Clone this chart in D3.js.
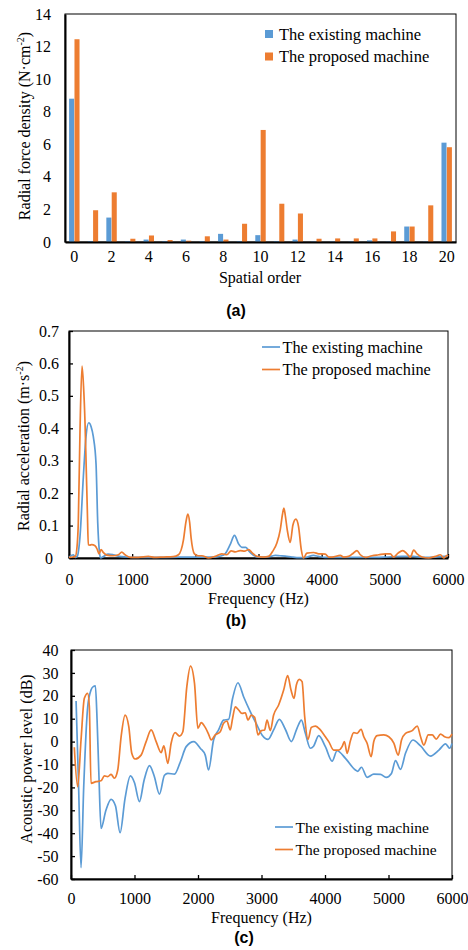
<!DOCTYPE html>
<html>
<head>
<meta charset="utf-8">
<script src="https://cdn.jsdelivr.net/npm/d3@7"></script>
<style>
  body { margin: 0; background: #fff; }
</style>
</head>
<body>
<div id="chart"></div>
<script>
/* CONSTANTS AND GLOBALS */
const width = 468,
  height = 950;
const blue = "#5B9BD5",
  orange = "#ED7D31";
const serif = "Liberation Serif, Times New Roman, serif";

/* DATA */
// (a) radial force density per spatial order
const orders = d3.range(0, 21);
const forceExisting = [8.8, 0.05, 1.5, 0.05, 0.15, 0.05, 0.15, 0.05, 0.5, 0.05, 0.42, 0.05, 0.15, 0.03, 0.03, 0.03, 0.1, 0.03, 0.95, 0.03, 6.1];
const forceProposed = [12.45, 1.95, 3.05, 0.2, 0.4, 0.12, 0.08, 0.35, 0.15, 1.12, 6.88, 2.35, 1.75, 0.2, 0.22, 0.22, 0.22, 0.65, 0.95, 2.25, 5.82];
const forceTicks = [0, 2, 4, 6, 8, 10, 12, 14];
const orderTicks = [0, 2, 4, 6, 8, 10, 12, 14, 16, 18, 20];

// (b) radial acceleration [Hz, m/s2]
const accExisting = [[0,0.003],[40,0.008],[70,0.01],[100,0.002],[130,0.005],[174,0.066],[227,0.25],[269,0.374],[312,0.417],[350,0.405],[385,0.374],[428,0.29],[455,0.108],[481,0.02],[500,0],[550,0.005],[620,0.012],[700,0.01],[800,0.005],[900,0.003],[1000,0.002],[1500,0.002],[2000,0.003],[2314,0.003],[2400,0.006],[2472,0.013],[2551,0.041],[2620,0.07],[2683,0.044],[2737,0.033],[2800,0.033],[2853,0.02],[2921,0.008],[3000,0.003],[3100,0.003],[3212,0.006],[3265,0.008],[3340,0.007],[3423,0.006],[3529,0.003],[3650,0.001],[3750,0.002],[3872,0.008],[3950,0.005],[4050,0.002],[4300,0.002],[4700,0.002],[5000,0.003],[5272,0.005],[5450,0.005],[5600,0.002],[5800,0.003],[5986,0.006],[6000,0.005]];
const accProposed = [[0,0.002],[60,0.003],[100,0.005],[125,0.03],[147,0.108],[175,0.4],[206,0.592],[230,0.53],[254,0.415],[275,0.26],[290,0.149],[306,0.041],[330,0.04],[359,0.041],[412,0.038],[449,0.026],[475,0.013],[507,0.026],[544,0.017],[597,0.009],[702,0.007],[782,0.01],[835,0.018],[887,0.01],[966,0.002],[1100,0.002],[1257,0.005],[1350,0.002],[1500,0.003],[1650,0.004],[1733,0.01],[1812,0.056],[1850,0.11],[1881,0.135],[1910,0.11],[1933,0.062],[1986,0.013],[2049,0.007],[2103,0.007],[2208,0],[2314,0.005],[2420,0.013],[2499,0.01],[2567,0.022],[2631,0.019],[2710,0.023],[2779,0.021],[2842,0.026],[2905,0.015],[2974,0.005],[3080,0.003],[3159,0.005],[3222,0.02],[3291,0.046],[3344,0.087],[3380,0.135],[3402,0.154],[3425,0.13],[3455,0.087],[3502,0.048],[3545,0.102],[3592,0.12],[3634,0.097],[3677,0.026],[3713,0],[3766,0.015],[3872,0.017],[3951,0.013],[4057,0.012],[4110,0.003],[4163,0.003],[4295,0.008],[4348,0.003],[4427,0.005],[4490,0.013],[4559,0.023],[4612,0.01],[4691,0.002],[4797,0.007],[4902,0.01],[5008,0.013],[5087,0.013],[5140,0.003],[5209,0.015],[5283,0.023],[5351,0.013],[5404,0.003],[5457,0.024],[5510,0.013],[5589,0.003],[5694,0],[5800,0.005],[5880,0.01],[5932,0],[5985,0.008],[6000,0.006]];
const accTicks = [0, 0.1, 0.2, 0.3, 0.4, 0.5, 0.6, 0.7];

// (c) acoustic power level [Hz, dB]
const swlExisting = [[80,17.7],[120,-20],[158,-55],[200,-20],[263,15.2],[315,22.5],[350,24],[384,24.3],[410,10],[440,-15],[473,-37.9],[550,-30],[631,-25.2],[700,-28],[773,-39.8],[850,-25],[936,-15],[1000,-18],[1078,-26.2],[1150,-17],[1236,-10.5],[1310,-15],[1393,-22.9],[1472,-14.7],[1525,-13.9],[1630,-14.2],[1720,-9],[1814,-2.2],[1935,0],[2035,-2.9],[2114,-5.9],[2166,-12.4],[2245,0.7],[2324,5.1],[2403,9.4],[2482,9.7],[2545,18.9],[2629,25.7],[2718,19.6],[2823,13.1],[2929,7.2],[3008,2.9],[3102,1.0],[3191,5.1],[3281,9.7],[3375,5.4],[3470,0],[3559,5.8],[3628,9.4],[3691,3.6],[3770,-2.9],[3820,-2],[3901,2.6],[4006,-2.2],[4112,-8.5],[4190,-4.0],[4322,-7.3],[4479,-12.4],[4515,-13],[4574,-11.2],[4663,-15.6],[4768,-14.2],[4873,-14.3],[4963,-15.6],[5047,-13.9],[5110,-8.3],[5189,-12.1],[5268,-5.1],[5384,0.7],[5505,-1.9],[5662,-6.3],[5794,-3.7],[5899,-1.0],[5962,-2.9],[6000,-0.8]];
const swlProposed = [[52,-2.5],[105,-19.7],[158,0.7],[210,18.9],[263,21.1],[289,15.2],[315,-18.2],[394,-17.5],[473,-17.1],[526,-15],[578,-15.3],[631,-14.3],[683,-16],[736,-12.4],[789,2.1],[852,11.6],[910,6.5],[957,-5.1],[1009,-7.6],[1104,-5.9],[1183,0],[1262,5.1],[1341,0],[1420,-4.8],[1462,-1.9],[1525,-9.5],[1577,-0.7],[1640,3.9],[1708,2.4],[1761,4.3],[1824,24],[1882,33],[1945,25.4],[1998,5.8],[2050,8.3],[2114,6.2],[2166,3.3],[2208,0.7],[2271,2.9],[2350,4.3],[2403,8.0],[2455,9.0],[2508,5.1],[2545,10.2],[2587,15.2],[2640,13.8],[2692,12.3],[2745,12.6],[2787,9.4],[2839,11.6],[2892,10.6],[2945,2.9],[2997,4.8],[3049,5.1],[3087,9.4],[3139,4.8],[3191,11.6],[3270,16],[3349,22.5],[3412,28.8],[3465,22.5],[3512,18.9],[3549,24.7],[3596,27.2],[3639,26.2],[3680,10.9],[3733,1.0],[3785,6.2],[3849,6.8],[3927,5.1],[4006,2.1],[4059,0],[4137,-3.7],[4216,-3.7],[4269,-2.2],[4306,0],[4348,-5.1],[4401,0.5],[4453,3.9],[4506,3.6],[4569,5.4],[4611,2.1],[4663,-0.7],[4727,-6.6],[4768,0],[4821,2.6],[4926,2.9],[5005,2.1],[5084,-0.7],[5153,-5.9],[5205,0.7],[5268,3.6],[5374,4.8],[5453,6.8],[5505,2.1],[5557,-1.5],[5626,2.9],[5689,2.9],[5752,1.1],[5820,3.3],[5883,2.1],[5951,1.7],[6000,3.3]];
const swlTicks = [-60, -50, -40, -30, -20, -10, 0, 10, 20, 30, 40];
const freqTicks = [0, 1000, 2000, 3000, 4000, 5000, 6000];
const seriesNames = ["The existing machine", "The proposed machine"];

const svg = d3.select("#chart")
  .append("svg")
  .attr("width", width)
  .attr("height", height)
  .attr("font-family", serif);

// frame: thin box, thick left/bottom axes drawn on top of it
function frame(box) {
  svg.append("rect")
    .attr("x", box.left).attr("y", box.top)
    .attr("width", box.right - box.left).attr("height", box.bottom - box.top)
    .attr("fill", "none").attr("stroke", "#000").attr("stroke-width", 1);
}

function styleAxis(g) {
  g.select(".domain").attr("stroke", "#000").attr("stroke-width", 2);
  g.selectAll(".tick line").attr("stroke", "#000").attr("stroke-width", 1.3);
  g.selectAll("text").attr("font-family", serif).attr("font-size", 16).attr("fill", "#000");
}

function yTitle(x, y, main, sup, tail) {
  const t = svg.append("text")
    .attr("transform", `translate(${x}, ${y}) rotate(-90)`)
    .attr("text-anchor", "middle")
    .attr("font-size", 16)
    .text(main);
  if (sup) {
    t.append("tspan").attr("dy", -6).attr("font-size", 10).text(sup);
    t.append("tspan").attr("dy", 6).text(tail);
  }
}

function caption(x, y, s) {
  svg.append("text")
    .attr("x", x).attr("y", y)
    .attr("text-anchor", "middle")
    .attr("font-family", "Liberation Sans, Arial, sans-serif")
    .attr("font-weight", "bold")
    .attr("font-size", 16)
    .text(s);
}

const plain = d => String(d);

/* (a) BAR CHART */
const boxA = { left: 65, right: 456, top: 14, bottom: 242 };
frame(boxA);
const xA = d3.scaleBand()
  .domain(orders)
  .range([boxA.left, boxA.right])
  .paddingInner(0.44)
  .paddingOuter(0.22);
const xSub = d3.scaleBand()
  .domain([0, 1])
  .range([0, xA.bandwidth()])
  .paddingInner(0.06);
const yA = d3.scaleLinear().domain([0, 14]).range([boxA.bottom, boxA.top]);

const barGroups = svg.selectAll(".order")
  .data(orders)
  .join("g")
  .attr("class", "order")
  .attr("transform", d => `translate(${xA(d)}, 0)`);
barGroups.selectAll("rect")
  .data(d => [forceExisting[d], forceProposed[d]])
  .join("rect")
  .attr("x", (d, i) => xSub(i))
  .attr("width", xSub.bandwidth())
  .attr("y", d => yA(d))
  .attr("height", d => yA(0) - yA(d))
  .attr("fill", (d, i) => i === 0 ? blue : orange);

svg.append("g")
  .attr("transform", `translate(${boxA.left}, 0)`)
  .call(d3.axisLeft(yA).tickValues(forceTicks).tickFormat(plain).tickSize(0).tickPadding(14).tickSizeOuter(0))
  .call(styleAxis);
svg.append("g")
  .attr("transform", `translate(0, ${boxA.bottom})`)
  .call(d3.axisBottom(xA).tickValues(orderTicks).tickFormat(plain).tickSize(0).tickPadding(9).tickSizeOuter(0))
  .call(styleAxis);

yTitle(30, 126, "Radial force density (N·cm", "-2", ")");
svg.append("text").attr("x", 260).attr("y", 283).attr("text-anchor", "middle").attr("font-size", 16).text("Spatial order");
caption(236, 316, "(a)");

// legend (a)
seriesNames.forEach((name, i) => {
  const ly = 34 + i * 22.5;
  svg.append("rect").attr("x", 265).attr("y", ly - 4).attr("width", 8).attr("height", 8).attr("fill", i === 0 ? blue : orange);
  svg.append("text").attr("x", 279).attr("y", ly + 5.5).attr("font-size", 16.5).text(name);
});

/* LINE PANELS */
function linePanel(box, yDomain, yTicks, series, opts) {
  frame(box);
  const x = d3.scaleLinear().domain([0, 6000]).range([box.left, box.right]);
  const y = d3.scaleLinear().domain(yDomain).range([box.bottom, box.top]);

  const yAxisG = svg.append("g")
    .attr("transform", `translate(${box.left}, 0)`)
    .call(d3.axisLeft(y).tickValues(yTicks).tickFormat(plain).tickSizeInner(-4).tickSizeOuter(0).tickPadding(opts.yPad))
    .call(styleAxis);
  if (opts.yCenter) {
    yAxisG.selectAll("text").attr("text-anchor", "middle").attr("x", opts.yCenter);
  }
  svg.append("g")
    .attr("transform", `translate(0, ${box.bottom})`)
    .call(d3.axisBottom(x).tickValues(freqTicks).tickFormat(plain).tickSizeInner(-4).tickSizeOuter(0).tickPadding(opts.xPad))
    .call(styleAxis);

  const lineGen = d3.line()
    .x(d => x(d[0]))
    .y(d => y(d[1]))
    .curve(d3.curveMonotoneX);

  svg.selectAll(null)
    .data(series)
    .join("path")
    .attr("fill", "none")
    .attr("stroke", (d, i) => i === 0 ? blue : orange)
    .attr("stroke-width", 1.7)
    .attr("d", d => lineGen(d));

  // legend
  seriesNames.forEach((name, i) => {
    const ly = opts.legY + i * opts.legGap;
    svg.append("line")
      .attr("x1", opts.legX).attr("x2", opts.legX + 18)
      .attr("y1", ly).attr("y2", ly)
      .attr("stroke", i === 0 ? blue : orange).attr("stroke-width", 1.7);
    svg.append("text").attr("x", opts.legX + 20.5).attr("y", ly + 5.5).attr("font-size", opts.legSize).text(name);
  });

  svg.append("text")
    .attr("x", (box.left + box.right) / 2).attr("y", opts.titleY)
    .attr("text-anchor", "middle").attr("font-size", 16)
    .text("Frequency (Hz)");
}

/* (b) */
linePanel({ left: 69, right: 448, top: 331, bottom: 558 }, [0, 0.7], accTicks, [accExisting, accProposed],
  { yPad: 6, yCenter: -20, xPad: 16, legX: 262, legY: 347, legGap: 22.5, legSize: 16.3, titleY: 604 });
yTitle(28.5, 446, "Radial acceleration (m·s", "-2", ")");
caption(236, 626, "(b)");

/* (c) */
linePanel({ left: 71, right: 452, top: 650, bottom: 879 }, [-60, 40], swlTicks, [swlExisting, swlProposed],
  { yPad: 12.5, xPad: 14, legX: 275, legY: 827, legGap: 22.5, legSize: 15.5, titleY: 923 });
yTitle(32, 759, "Acoustic power level (dB)");
caption(244, 943, "(c)");
</script>
</body>
</html>
